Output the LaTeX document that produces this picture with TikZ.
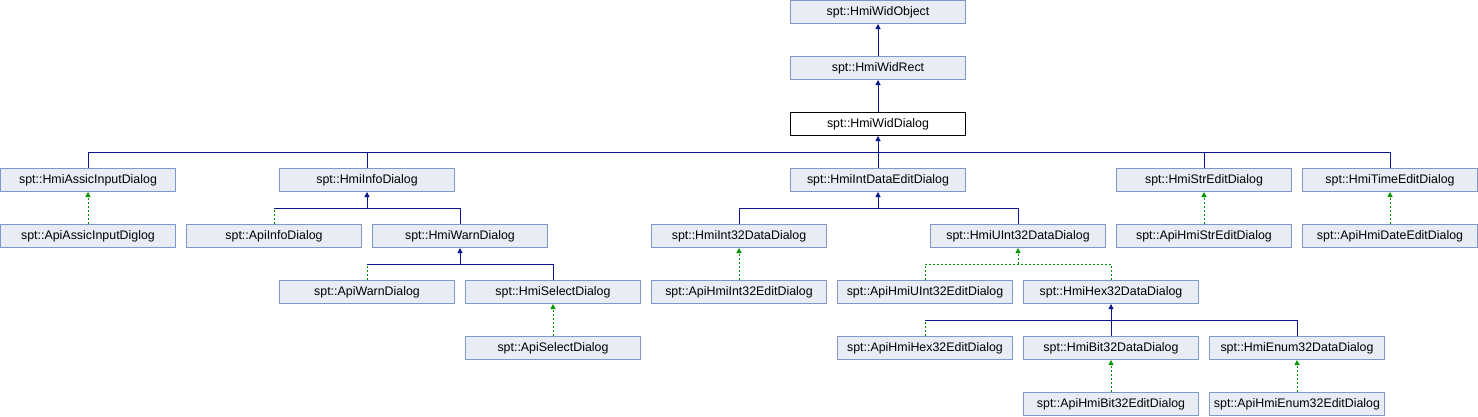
\documentclass[tikz,border=0pt]{standalone}
\usepackage{fontspec}
\setmainfont{Liberation Sans}
\usetikzlibrary{arrows.meta}
\definecolor{boxfill}{RGB}{232,236,245}
\definecolor{boxborder}{RGB}{128,151,201}
\definecolor{pubblue}{RGB}{10,20,140}
\definecolor{depgreen}{RGB}{0,150,0}
\tikzset{
  cls/.style={draw=boxborder, fill=boxfill, line width=1pt, minimum width=175pt, minimum height=23pt, inner sep=0pt, font=\fontsize{12.4}{14}\selectfont},
  cur/.style={cls, draw=black, fill=white},
  pub/.style={draw=pubblue, line width=1pt},
  dep/.style={draw=depgreen, line width=1pt, dash pattern=on 2pt off 2pt},
  tipb/.style={-{Triangle[length=5pt,width=5pt,fill=pubblue]}},
  tipg/.style={-{Triangle[length=5pt,width=5pt,fill=depgreen]}}
}
\begin{document}
\begin{tikzpicture}[x=1pt,y=-1pt]
\fill[white] (0,0) rectangle (1478,416);
\useasboundingbox (0,0) rectangle (1478,416);
% rows 0-2
\node[cls] (obj) at (878,12) {spt::HmiWidObject};
\node[cls] (rect) at (878,68) {spt::HmiWidRect};
\node[cur] (dlg) at (878,124) {spt::HmiWidDialog};
% row 3
\node[cls] (assic) at (88,180) {spt::HmiAssicInputDialog};
\node[cls] (info) at (367,180) {spt::HmiInfoDialog};
\node[cls] (intdata) at (878,180) {spt::HmiIntDataEditDialog};
\node[cls] (str) at (1204,180) {spt::HmiStrEditDialog};
\node[cls] (time) at (1390,180) {spt::HmiTimeEditDialog};
% row 4
\node[cls] (apiassic) at (88,236) {spt::ApiAssicInputDiglog};
\node[cls] (apiinfo) at (274,236) {spt::ApiInfoDialog};
\node[cls] (warn) at (460,236) {spt::HmiWarnDialog};
\node[cls] (int32) at (739,236) {spt::HmiInt32DataDialog};
\node[cls] (uint32) at (1018,236) {spt::HmiUInt32DataDialog};
\node[cls] (apistr) at (1204,236) {spt::ApiHmiStrEditDialog};
\node[cls] (apidate) at (1390,236) {spt::ApiHmiDateEditDialog};
% row 5
\node[cls] (apiwarn) at (367,292) {spt::ApiWarnDialog};
\node[cls] (select) at (553,292) {spt::HmiSelectDialog};
\node[cls] (apiint32) at (739,292) {spt::ApiHmiInt32EditDialog};
\node[cls] (apiuint32) at (925,292) {spt::ApiHmiUInt32EditDialog};
\node[cls] (hex32) at (1111,292) {spt::HmiHex32DataDialog};
% row 6
\node[cls] (apiselect) at (553,348) {spt::ApiSelectDialog};
\node[cls] (apihex) at (925,348) {spt::ApiHmiHex32EditDialog};
\node[cls] (bit32) at (1111,348) {spt::HmiBit32DataDialog};
\node[cls] (enum32) at (1297,348) {spt::HmiEnum32DataDialog};
% row 7
\node[cls] (apibit) at (1111,404) {spt::ApiHmiBit32EditDialog};
\node[cls] (apienum) at (1297,404) {spt::ApiHmiEnum32EditDialog};
% bus levels
\coordinate (b3) at (0,152);
\coordinate (b4) at (0,208);
\coordinate (b5) at (0,264);
\coordinate (b6) at (0,320);
% simple edges
\draw[pub,tipb] (rect.north) -- (obj.south);
\draw[pub,tipb] (dlg.north) -- (rect.south);
% HmiWidDialog children
\draw[pub] (assic.north) |- (b3 -| time.north) -- (time.north);
\draw[pub] (info.north) -- (info.north |- b3);
\draw[pub] (intdata.north) -- (intdata.north |- b3);
\draw[pub] (str.north) -- (str.north |- b3);
\draw[pub,tipb] (dlg.south |- b3) -- (dlg.south);
% HmiAssicInputDialog
\draw[dep,tipg] (apiassic.north) -- (assic.south);
% HmiInfoDialog
\draw[pub] (apiinfo.north |- b4) -- (b4 -| warn.north) -- (warn.north);
\draw[dep] (apiinfo.north) -- (apiinfo.north |- b4);
\draw[pub,tipb] (info.south |- b4) -- (info.south);
% HmiWarnDialog
\draw[pub] (apiwarn.north |- b5) -- (b5 -| select.north) -- (select.north);
\draw[dep] (apiwarn.north) -- (apiwarn.north |- b5);
\draw[pub,tipb] (warn.south |- b5) -- (warn.south);
% HmiSelectDialog
\draw[dep,tipg] (apiselect.north) -- (select.south);
% HmiIntDataEditDialog
\draw[pub] (int32.north) |- (b4 -| uint32.north) -- (uint32.north);
\draw[pub,tipb] (intdata.south |- b4) -- (intdata.south);
% HmiInt32DataDialog
\draw[dep,tipg] (apiint32.north) -- (int32.south);
% HmiUInt32DataDialog
\draw[dep] (apiuint32.north) |- (b5 -| hex32.north) -- (hex32.north);
\draw[dep,tipg] (uint32.south |- b5) -- (uint32.south);
% HmiHex32DataDialog
\draw[pub] (apihex.north |- b6) -- (b6 -| enum32.north) -- (enum32.north);
\draw[dep] (apihex.north) -- (apihex.north |- b6);
\draw[pub] (bit32.north) -- (bit32.north |- b6);
\draw[pub,tipb] (hex32.south |- b6) -- (hex32.south);
% leaves
\draw[dep,tipg] (apibit.north) -- (bit32.south);
\draw[dep,tipg] (apienum.north) -- (enum32.south);
\draw[dep,tipg] (apistr.north) -- (str.south);
\draw[dep,tipg] (apidate.north) -- (time.south);
\end{tikzpicture}
\end{document}
